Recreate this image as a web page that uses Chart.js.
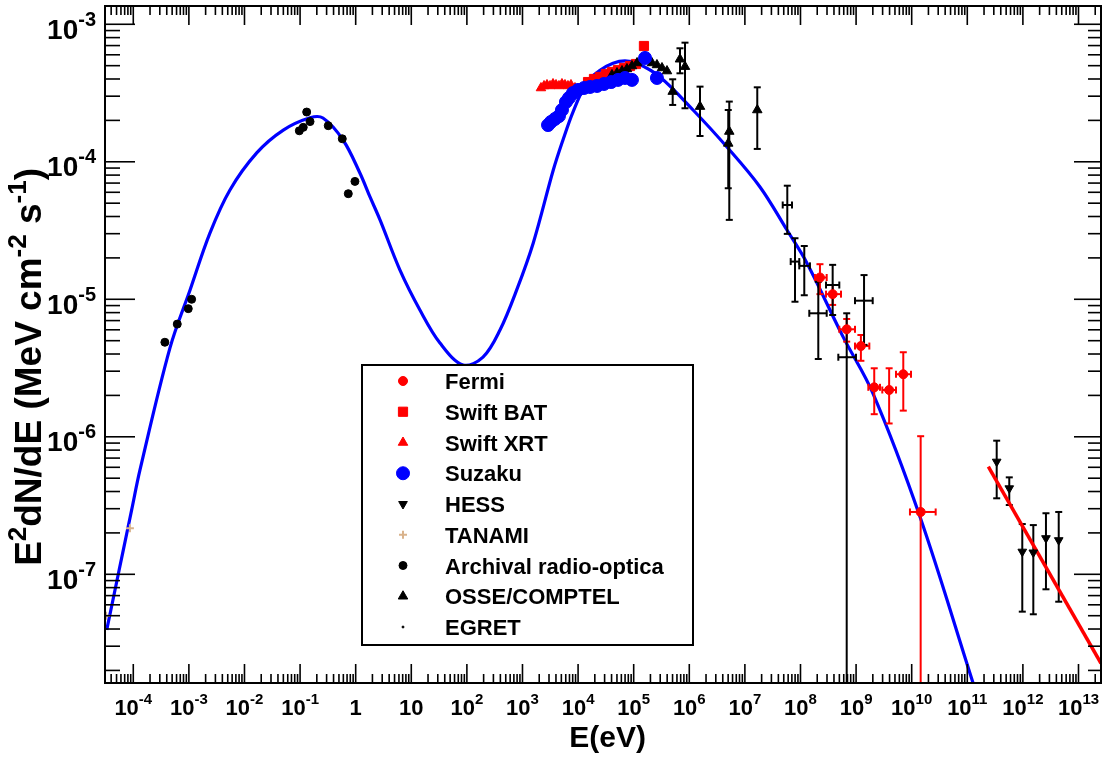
<!DOCTYPE html>
<html>
<head>
<meta charset="utf-8">
<title>Broadband SED</title>
<script src="https://cdn.jsdelivr.net/npm/chart.js@4.4.1/dist/chart.umd.min.js"></script>
<style>
  body { margin: 0; background: #ffffff; }
  canvas { display: block; }
</style>
</head>
<body>
<canvas id="sed" width="1102" height="759"></canvas>
<script>
// E in eV, E^2 dN/dE in MeV cm^-2 s^-1

// --- axis ranges and labelled decades ---
const xRange = [3.1e-5, 2.54e13];
const yRange = [1.62e-8, 1.358e-3];
const xTickPowers = [-4, -3, -2, -1, 0, 1, 2, 3, 4, 5, 6, 7, 8, 9, 10, 11, 12, 13];
const yTickPowers = [-7, -6, -5, -4, -3];

// --- model curve (blue) ---
const modelE = [3.33e-5, 4.69e-5, 6.61e-5, 9.35e-5, 1.32e-4, 4.57e-4, 1.05e-3, 2.39e-3, 5.48e-3, 1.66e-2,
  4.99e-2, 0.151, 0.258, 0.592, 1.19, 1.81, 2.74, 6.26, 14.3, 32.8, 85.1, 195, 394, 787, 1563, 3581,
  5346, 8091, 1.445e4, 2.48e4, 4.25e4, 6.98e4, 1.15e5, 2.97e5, 1.17e6, 4.76e6, 1.87e7, 5.71e7, 1.31e8,
  5.81e8, 2.01e9, 1.41e10, 1.27e11];
const modelF = [3.94e-8, 7.69e-8, 1.50e-7, 2.94e-7, 5.74e-7, 4.43e-6, 1.17e-5, 3.03e-5, 6.24e-5, 1.16e-4,
  1.70e-4, 2.09e-4, 2.08e-4, 1.44e-4, 8.29e-5, 5.55e-5, 3.78e-5, 1.63e-5, 8.36e-6, 4.81e-6, 3.33e-6,
  3.80e-6, 5.98e-6, 1.17e-5, 2.57e-5, 8.71e-5, 1.44e-4, 2.30e-4, 3.80e-4, 4.62e-4, 5.20e-4, 5.41e-4,
  5.20e-4, 4.14e-4, 2.38e-4, 1.28e-4, 6.56e-5, 3.19e-5, 1.83e-5, 5.35e-6, 2.07e-6, 2.62e-7, 1.62e-8];

// --- HESS power-law fit (red line) ---
const hessFitE = [2.39e11, 2.54e13];
const hessFitF = [6.06e-7, 2.25e-8];

// --- Fermi ---
const fermiE   = [2.24e8, 3.79e8, 6.78e8, 1.22e9, 2.12e9, 3.93e9, 7.06e9, 1.45e10];
const fermiElo = [1.82e8, 2.88e8, 4.99e8, 9.55e8, 1.66e9, 2.96e9, 5.22e9, 9.31e9];
const fermiEhi = [2.96e8, 5.35e8, 9.55e8, 1.73e9, 2.69e9, 5.22e9, 9.72e9, 2.70e10];
const fermiF   = [1.44e-5, 1.09e-5, 6.05e-6, 4.57e-6, 2.29e-6, 2.19e-6, 2.85e-6, 2.84e-7];
const fermiFlo = [1.09e-5, 9.1e-6, 4.92e-6, 3.57e-6, 1.46e-6, 1.25e-6, 1.55e-6, 1e-9];
const fermiFhi = [1.80e-5, 1.27e-5, 7.19e-6, 5.50e-6, 3.15e-6, 3.15e-6, 4.12e-6, 1.01e-6];

// --- Swift BAT ---
const batE = [1.51e4, 1.93e4, 2.48e4, 3.17e4, 4.07e4, 5.22e4, 6.70e4, 8.57e4, 1.10e5, 1.53e5];
const batF = [3.80e-4, 4.00e-4, 4.14e-4, 4.35e-4, 4.50e-4, 4.65e-4, 4.81e-4, 4.97e-4, 5.14e-4, 6.95e-4];

// --- Swift XRT ---
const xrtE = [2.15e3, 2.44e3, 2.76e3, 3.13e3, 3.54e3, 4.01e3, 4.53e3, 5.13e3, 5.81e3, 6.58e3, 7.45e3, 8.79e3];
const xrtF = [3.44e-4, 3.56e-4, 3.62e-4, 3.56e-4, 3.68e-4, 3.62e-4, 3.56e-4, 3.68e-4, 3.62e-4, 3.56e-4, 3.62e-4, 3.44e-4];

// --- Suzaku ---
const suzakuE = [2.88e3, 3.26e3, 3.85e3, 4.53e3, 5.13e3, 6.05e3, 6.86e3, 8.09e3, 9.95e3, 1.28e4,
  1.64e4, 2.19e4, 2.92e4, 3.93e4, 5.22e4, 6.98e4, 9.31e4, 1.60e5, 2.62e5];
const suzakuF = [1.85e-4, 1.95e-4, 2.05e-4, 2.15e-4, 2.38e-4, 2.72e-4, 2.91e-4, 3.16e-4, 3.33e-4, 3.44e-4,
  3.50e-4, 3.56e-4, 3.68e-4, 3.80e-4, 3.94e-4, 4.07e-4, 3.94e-4, 5.69e-4, 4.07e-4];

// --- HESS ---
const hessE   = [3.38e11, 5.69e11, 9.75e11, 1.54e12, 2.60e12, 4.41e12];
const hessF   = [6.59e-7, 4.22e-7, 1.46e-7, 1.44e-7, 1.83e-7, 1.77e-7];
const hessFlo = [3.57e-7, 3.19e-7, 5.35e-8, 5.12e-8, 7.78e-8, 6.32e-8];
const hessFhi = [9.37e-7, 5.07e-7, 2.32e-7, 2.28e-7, 2.78e-7, 2.84e-7];

// --- TANAMI ---
const tanamiE = [3.23e-5, 8.7e-5];
const tanamiF = [5.0e-8, 2.16e-7];

// --- archival radio-optical ---
const archE = [3.7e-4, 6.18e-4, 9.75e-4, 1.12e-3, 0.0968, 0.114, 0.1315, 0.151, 0.321, 0.574, 0.736, 0.97];
const archF = [4.87e-6, 6.6e-6, 8.55e-6, 1.0e-5, 1.68e-4, 1.78e-4, 2.30e-4, 1.96e-4, 1.83e-4, 1.47e-4, 5.86e-5, 7.2e-5];

// --- OSSE/COMPTEL (first twelve have no error bars) ---
const osseE = [4.07e4, 5.01e4, 6.16e4, 7.57e4, 9.31e4, 1.15e5, 1.41e5, 1.73e5, 2.13e5, 2.62e5, 3.23e5, 3.97e5,
  5.03e5, 6.80e5, 8.37e5, 1.56e6, 5.24e6, 5.02e6, 1.67e7];
const osseF = [4.28e-4, 4.42e-4, 4.57e-4, 4.73e-4, 4.97e-4, 5.23e-4, 5.41e-4, 5.50e-4, 5.23e-4, 5.06e-4, 4.81e-4, 4.57e-4,
  3.24e-4, 5.57e-4, 4.92e-4, 2.52e-4, 1.66e-4, 1.36e-4, 2.38e-4];
const osseFlo = [null, null, null, null, null, null, null, null, null, null, null, null,
  2.59e-4, 4.40e-4, 2.45e-4, 1.54e-4, 3.78e-5, 6.42e-5, 1.24e-4];
const osseFhi = [null, null, null, null, null, null, null, null, null, null, null, null,
  3.98e-4, 6.69e-4, 7.35e-4, 3.52e-4, 2.74e-4, 2.38e-4, 3.48e-4];

// --- EGRET ---
const egretE   = [5.79e7, 7.96e7, 1.17e8, 2.09e8, 3.79e8, 6.78e8, 1.39e9];
const egretElo = [4.79e7, 6.67e7, 9.51e7, 1.44e8, 2.88e8, 4.79e8, 9.55e8];
const egretEhi = [7.03e7, 9.51e7, 1.48e8, 2.96e8, 4.99e8, 9.95e8, 1.99e9];
const egretF   = [4.85e-5, 1.88e-5, 1.75e-5, 7.91e-6, 1.27e-5, 3.79e-6, 9.77e-6];
const egretFlo = [2.99e-5, 9.6e-6, 1.07e-5, 3.68e-6, 7.69e-6, 1e-9, 4.66e-6];
const egretFhi = [6.70e-5, 2.78e-5, 2.44e-5, 1.34e-5, 1.78e-5, 7.91e-6, 1.50e-5];

const legendLabels = ['Fermi', 'Swift BAT', 'Swift XRT', 'Suzaku', 'HESS', 'TANAMI',
  'Archival radio-optica', 'OSSE/COMPTEL', 'EGRET'];

const FONT = '"Liberation Sans", Arial, Helvetica, sans-serif';

function pts(E, F) {
  return E.map((e, i) => ({ x: e, y: F[i] }));
}

function marker(label, E, F, style, color, radius, order, extra) {
  return Object.assign({
    label: label,
    data: pts(E, F),
    pointStyle: style,
    pointRadius: radius,
    pointHoverRadius: radius,
    pointBackgroundColor: color,
    pointBorderColor: color,
    pointBorderWidth: 1,
    showLine: false,
    order: order,
    inLegend: true
  }, extra || {});
}

const datasets = [
  {
    label: 'model', data: pts(modelE, modelF), showLine: true, borderColor: '#0000ff',
    borderWidth: 3.2, pointRadius: 0, tension: 0.35, fill: false, order: 100
  },
  marker(legendLabels[0], fermiE, fermiF, 'circle', '#ff0000', 4.5, 3,
    { err: { xlo: fermiElo, xhi: fermiEhi, ylo: fermiFlo, yhi: fermiFhi }, errColor: '#ff0000' }),
  marker(legendLabels[1], batE, batF, 'rect', '#ff0000', 6.5, 9),
  marker(legendLabels[2], xrtE, xrtF, 'triangle', '#ff0000', 5.5, 8),
  marker(legendLabels[3], suzakuE, suzakuF, 'circle', '#0000ff', 6.5, 5),
  marker(legendLabels[4], hessE, hessF, 'triangle', '#000000', 5, 4,
    { pointRotation: 180, err: { ylo: hessFlo, yhi: hessFhi }, errColor: '#000000' }),
  marker(legendLabels[5], tanamiE, tanamiF, 'cross', '#d9b38c', 4, 4, { pointBorderWidth: 2 }),
  marker(legendLabels[6], archE, archF, 'circle', '#000000', 4, 4),
  marker(legendLabels[7], osseE, osseF, 'triangle', '#000000', 5.5, 6,
    { err: { ylo: osseFlo, yhi: osseFhi }, errColor: '#000000' }),
  marker(legendLabels[8], egretE, egretF, 'circle', '#000000', 1, 2,
    { err: { xlo: egretElo, xhi: egretEhi, ylo: egretFlo, yhi: egretFhi }, errColor: '#000000' }),
  {
    label: 'HESS fit', data: pts(hessFitE, hessFitF), showLine: true, borderColor: '#ff0000',
    borderWidth: 3.5, pointRadius: 0, fill: false, order: 99
  }
];

// ---- helpers for ROOT-like decorations ----
function drawPieces(ctx, pieces, x, y, align) {
  let w = 0;
  pieces.forEach(p => {
    ctx.font = 'bold ' + p.size + 'px ' + FONT;
    p.w = ctx.measureText(p.t).width;
    w += p.w;
  });
  let cx = align === 'right' ? x - w : align === 'center' ? x - w / 2 : x;
  ctx.textAlign = 'left';
  ctx.textBaseline = 'alphabetic';
  pieces.forEach(p => {
    ctx.font = 'bold ' + p.size + 'px ' + FONT;
    ctx.fillText(p.t, cx, y - (p.dy || 0));
    cx += p.w;
  });
  return w;
}

function powerPieces(p, base, sup, raise) {
  if (p === 0) return [{ t: '1', size: base }];
  if (p === 1) return [{ t: '10', size: base }];
  return [{ t: '10', size: base }, { t: String(p), size: sup, dy: raise }];
}

function tickValues(range) {
  const major = [], minor = [];
  const d0 = Math.floor(Math.log10(range[0])), d1 = Math.ceil(Math.log10(range[1]));
  for (let d = d0; d <= d1; d++) {
    const m = Math.pow(10, d);
    if (m >= range[0] && m <= range[1]) major.push(m);
    for (let k = 2; k <= 9; k++) {
      const v = k * m;
      if (v >= range[0] && v <= range[1]) minor.push(v);
    }
  }
  return { major, minor };
}

function line(ctx, x1, y1, x2, y2) {
  ctx.beginPath();
  ctx.moveTo(x1, y1);
  ctx.lineTo(x2, y2);
  ctx.stroke();
}

function drawErrorBars(chart) {
  const ctx = chart.ctx, xs = chart.scales.x, ys = chart.scales.y, ca = chart.chartArea;
  const cap = 3.5;
  ctx.save();
  ctx.beginPath();
  ctx.rect(ca.left, ca.top, ca.right - ca.left, ca.bottom - ca.top);
  ctx.clip();
  ctx.lineWidth = 2;
  chart.data.datasets.forEach(ds => {
    if (!ds.err) return;
    const e = ds.err;
    ctx.strokeStyle = ds.errColor;
    ds.data.forEach((p, i) => {
      const px = xs.getPixelForValue(p.x), py = ys.getPixelForValue(p.y);
      if (e.ylo && e.ylo[i] != null) {
        const y1 = ys.getPixelForValue(e.ylo[i]), y2 = ys.getPixelForValue(e.yhi[i]);
        line(ctx, px, y1, px, y2);
        line(ctx, px - cap, y1, px + cap, y1);
        line(ctx, px - cap, y2, px + cap, y2);
      }
      if (e.xlo && e.xlo[i] != null) {
        const x1 = xs.getPixelForValue(e.xlo[i]), x2 = xs.getPixelForValue(e.xhi[i]);
        line(ctx, x1, py, x2, py);
        line(ctx, x1, py - cap, x1, py + cap);
        line(ctx, x2, py - cap, x2, py + cap);
      }
    });
  });
  ctx.restore();
}

const rootStyle = {
  id: 'rootStyle',
  afterDatasetDraw(chart, args) {
    if (args.index === 0) drawErrorBars(chart);
  },
  afterDraw(chart) {
    const ctx = chart.ctx, xs = chart.scales.x, ys = chart.scales.y, ca = chart.chartArea;
    ctx.save();
    ctx.strokeStyle = '#000';
    ctx.fillStyle = '#000';

    // ticks on all four sides, pointing inwards
    ctx.lineWidth = 1.6;
    const xt = tickValues(xRange), yt = tickValues(yRange);
    xt.major.forEach(v => {
      const px = xs.getPixelForValue(v);
      line(ctx, px, ca.bottom, px, ca.bottom - 19);
      line(ctx, px, ca.top, px, ca.top + 19);
    });
    xt.minor.forEach(v => {
      const px = xs.getPixelForValue(v);
      line(ctx, px, ca.bottom, px, ca.bottom - 9);
      line(ctx, px, ca.top, px, ca.top + 9);
    });
    yt.major.forEach(v => {
      const py = ys.getPixelForValue(v);
      line(ctx, ca.left, py, ca.left + 30, py);
      line(ctx, ca.right, py, ca.right - 27, py);
    });
    yt.minor.forEach(v => {
      const py = ys.getPixelForValue(v);
      line(ctx, ca.left, py, ca.left + 15, py);
      line(ctx, ca.right, py, ca.right - 13, py);
    });

    // frame
    ctx.lineWidth = 2;
    ctx.strokeRect(ca.left, ca.top, ca.right - ca.left, ca.bottom - ca.top);

    // tick labels
    xTickPowers.forEach(p => {
      const px = xs.getPixelForValue(Math.pow(10, p));
      drawPieces(ctx, powerPieces(p, 22, 15, 11), px, ca.bottom + 32, 'center');
    });
    yTickPowers.forEach(p => {
      const py = ys.getPixelForValue(Math.pow(10, p));
      drawPieces(ctx, powerPieces(p, 28, 20, 13), 96, py + 14.5, 'right');
    });

    // axis titles
    drawPieces(ctx, [{ t: 'E(eV)', size: 30 }], 646, 747, 'right');
    ctx.save();
    ctx.translate(41, 168);
    ctx.rotate(-Math.PI / 2);
    drawPieces(ctx, [
      { t: 'E', size: 37 }, { t: '2', size: 26, dy: 15 },
      { t: 'dN/dE (MeV cm', size: 37 }, { t: '-2', size: 26, dy: 15 },
      { t: ' s', size: 37 }, { t: '-1', size: 26, dy: 15 },
      { t: ')', size: 37 }
    ], 0, 0, 'right');
    ctx.restore();

    // legend box
    const box = { left: 362, top: 365, width: 331, height: 280 };
    ctx.fillStyle = '#fff';
    ctx.fillRect(box.left, box.top, box.width, box.height);
    ctx.lineWidth = 2;
    ctx.strokeStyle = '#000';
    ctx.strokeRect(box.left, box.top, box.width, box.height);
    let row = 0;
    chart.data.datasets.forEach(ds => {
      if (!ds.inLegend) return;
      const cy = 381 + row * 30.75;
      ctx.fillStyle = ds.pointBackgroundColor;
      ctx.strokeStyle = ds.pointBorderColor;
      ctx.lineWidth = ds.pointBorderWidth;
      Chart.helpers.drawPoint(ctx, {
        pointStyle: ds.pointStyle,
        radius: ds.pointRadius,
        rotation: ds.pointRotation || 0,
        borderWidth: ds.pointBorderWidth
      }, 403, cy);
      ctx.fillStyle = '#000';
      drawPieces(ctx, [{ t: ds.label, size: 22 }], 445, cy + 8, 'left');
      row++;
    });
    ctx.restore();
  }
};

new Chart(document.getElementById('sed'), {
  type: 'scatter',
  data: { datasets: datasets },
  options: {
    responsive: false,
    animation: false,
    devicePixelRatio: 1,
    layout: { autoPadding: false, padding: { top: 6, right: 1, left: 0, bottom: 0 } },
    plugins: { legend: { display: false }, tooltip: { enabled: false } },
    scales: {
      x: {
        type: 'logarithmic', min: xRange[0], max: xRange[1],
        grid: { display: false }, border: { display: false }, ticks: { display: false },
        afterFit: s => { s.height = 76; }
      },
      y: {
        type: 'logarithmic', min: yRange[0], max: yRange[1],
        grid: { display: false }, border: { display: false }, ticks: { display: false },
        afterFit: s => { s.width = 105; }
      }
    }
  },
  plugins: [rootStyle]
});
</script>
</body>
</html>
